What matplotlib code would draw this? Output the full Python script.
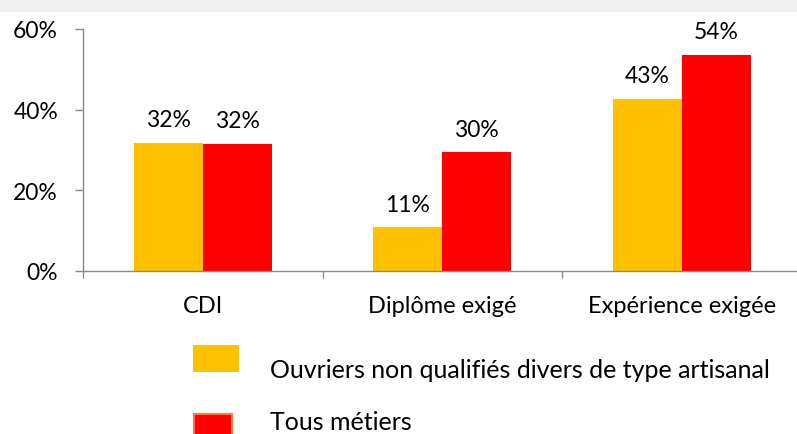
import matplotlib
matplotlib.use("Agg")
import matplotlib.pyplot as plt
from matplotlib.patches import Rectangle
from matplotlib.ticker import FixedLocator, NullFormatter
import numpy as np

categories = ["CDI", "Diplôme exigé", "Expérience exigée"]
series_names = ["Ouvriers non qualifiés divers de type artisanal", "Tous métiers"]
ouvriers = [31.8, 10.8, 42.7]
tous = [31.6, 29.5, 53.6]
yticks = [0, 20, 40, 60]
ytick_labels = ["0%", "20%", "40%", "60%"]

YELLOW = "#FFC000"
RED = "#FF0000"
AXIS_GRAY = "#898989"
FONT = "Lato"

W, H = 797, 435
fig = plt.figure(figsize=(W / 100, H / 100), dpi=100)
fig.patch.set_facecolor("white")

# top grey band
fig.patches.append(Rectangle((0, 1 - 13 / H), 1, 13 / H, transform=fig.transFigure,
                             facecolor="#F0F0F0", edgecolor="none", zorder=0))

ax = fig.add_axes([83 / W, 1 - 272 / H, 718.5 / W, 242 / H])
ax.set_facecolor("none")

x = np.arange(len(categories))
bw = 0.288
b1 = ax.bar(x - bw / 2, ouvriers, bw, color=YELLOW, edgecolor="none")
b2 = ax.bar(x + bw / 2, tous, bw, color=RED, edgecolor="none")

for bars, vals in ((b1, ouvriers), (b2, tous)):
    for rect, v in zip(bars, vals):
        ax.annotate(f"{round(v):d}%", (rect.get_x() + rect.get_width() / 2, v),
                    xytext=(0, 9), textcoords="offset points", ha="center", va="bottom",
                    fontsize=16.5, family=FONT, color="black", annotation_clip=False)

ax.set_xlim(-0.5, 2.5)
ax.set_ylim(0, 60)

for s in ("top", "right"):
    ax.spines[s].set_visible(False)
for s in ("left", "bottom"):
    ax.spines[s].set_color(AXIS_GRAY)
    ax.spines[s].set_linewidth(1)

ax.set_yticks(yticks)
ax.set_yticklabels(ytick_labels, family=FONT, fontsize=16.5)
ax.tick_params(axis="y", length=6, color=AXIS_GRAY, width=1, pad=12)

ax.xaxis.set_major_locator(FixedLocator([-0.5, 0.5, 1.5, 2.5]))
ax.xaxis.set_major_formatter(NullFormatter())
ax.xaxis.set_minor_locator(FixedLocator(list(x)))
ax.set_xticklabels(categories, minor=True, family=FONT, fontsize=17)
ax.tick_params(axis="x", which="major", length=5, color=AXIS_GRAY, width=1)
ax.tick_params(axis="x", which="minor", length=0, pad=17.5)

# legend
fig.patches.append(Rectangle((193 / W, 1 - 373 / H), 46 / W, 27 / H, transform=fig.transFigure,
                             facecolor=YELLOW, edgecolor="none"))
fig.patches.append(Rectangle((194 / W, 1 - 440 / H), 38 / W, 25 / H, transform=fig.transFigure,
                             facecolor=RED, edgecolor="#F07B3F", linewidth=1.5))
fig.text(270 / W, 1 - 378 / H, series_names[0], family=FONT, fontsize=18, va="baseline", ha="left")
fig.text(270 / W, 1 - 430 / H, series_names[1], family=FONT, fontsize=18, va="baseline", ha="left")

fig.savefig("out.png", dpi=100)
